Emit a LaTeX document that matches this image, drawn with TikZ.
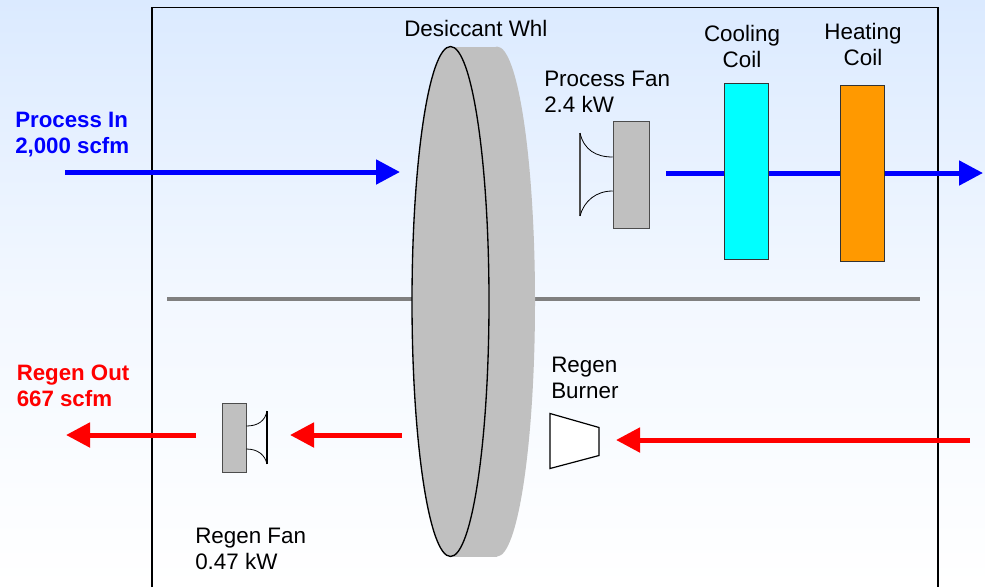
\documentclass[tikz,border=0pt]{standalone}
\usepackage{fontspec}
\setmainfont{Liberation Sans}
\usetikzlibrary{arrows.meta}
\definecolor{wheelgray}{RGB}{192,192,192}
\definecolor{skyblue}{RGB}{219,234,255}
\definecolor{coilorange}{RGB}{255,153,0}
\definecolor{coilcyan}{RGB}{0,255,255}
\tikzset{%
  label/.style    = {inner sep=0pt, anchor=west, align=left, text=black,%
                     font=\fontsize{16.8}{19.5}\selectfont},%
  flowlabel/.style = {label, font=\fontsize{16.7}{19.7}\selectfont\bfseries},%
  fanbox/.style   = {shape=rectangle, draw=black!70, fill=wheelgray, inner sep=0pt},%
  coil/.style     = {shape=rectangle, draw=black!80, line width=0.75pt, inner sep=0pt,%
                     minimum width=33pt, minimum height=131.5pt},%
  flow/.style     = {line width=3.75pt, -{Triangle[length=18pt,width=18pt]}},%
  horn/.style     = {line width=0.6pt}%
}
\begin{document}
\begin{tikzpicture}[x=0.75pt,y=-0.75pt]
	\useasboundingbox (0,0) rectangle (985,587);
	\shade[top color=skyblue, bottom color=white, middle color=skyblue!35] (0,0) rectangle (985,587);
	\draw[line width=1pt] (152,587) -- (152,7.5) -- (938,7.5) -- (938,587);
	% divider
	\coordinate (divleft) at (167,299);
	\coordinate (divright) at (920,299);
	\draw[line width=3.5pt, black!50] (divleft) -- (divright);
	% wheel
	\fill[wheelgray] (497,46.5) rectangle (451,556.5);
	\fill[wheelgray] (497,301.5) ellipse [x radius=38,y radius=255];
	\filldraw[fill=wheelgray, draw=black, line width=1pt] (450.5,301.5) ellipse [x radius=38.5,y radius=255];
	% process side
	\coordinate (procstart) at (65,172);
	\coordinate (procwheel) at (400,172);
	\coordinate (procout) at (666,173);
	\coordinate (procend) at (983,173);
	\draw[flow, blue] (procstart) -- (procwheel);
	\draw[flow, blue] (procout) -- (procend);
	\node[coil, fill=coilcyan] (cooling) at (746.5,171.5) {};
	\node[coil, fill=coilorange] (heating) at (862.5,173.5) {};
	\node[fanbox, minimum width=27pt, minimum height=80pt] (procfan) at (631,174.5) {};
	\coordinate (prochornup) at (580,133);
	\coordinate (prochorndown) at (580,216);
	\draw[horn, black!70, line width=0.8pt] (prochornup) -- (prochorndown);
	\draw[horn] (prochornup) .. controls (584,150) and (596,157) .. (procfan.west |- 0,157);
	\draw[horn] (prochorndown) .. controls (584,201) and (596,191) .. (procfan.west |- 0,191);
	% regen side
	\coordinate (regenstart) at (970,440);
	\coordinate (regenburner) at (616,440);
	\coordinate (regenwheel) at (402,435);
	\coordinate (regenfanin) at (290,435);
	\coordinate (regenfanout) at (196,435);
	\coordinate (regenend) at (66,435);
	\draw[flow, red] (regenstart) -- (regenburner);
	\draw[flow, red] (regenwheel) -- (regenfanin);
	\draw[flow, red] (regenfanout) -- (regenend);
	\draw[fill=white, line width=0.9pt] (550,413.5) -- (599,427.5) -- (599,455.5) -- (550,468.5) -- cycle;
	\node[fanbox, minimum width=18pt, minimum height=51.5pt] (regenfan) at (234,437.5) {};
	\coordinate (regenhornup) at (267,411);
	\coordinate (regenhorndown) at (267,464);
	\draw[horn, line width=0.8pt] (regenhornup) -- (regenhorndown);
	\draw[horn] (regenhornup) .. controls (265,421) and (258,426) .. (regenfan.east |- 0,426);
	\draw[horn] (regenhorndown) .. controls (265,455) and (258,449) .. (regenfan.east |- 0,449);
	% labels
	\node[label] (wheeltext) at (404,28) {Desiccant Whl};
	\node[label] (procfantext) at (544,92) {Process Fan\\2.4 kW};
	\node[label, anchor=center, align=center] (coolingtext) at (742,46) {Cooling\\Coil};
	\node[label, anchor=center, align=center] (heatingtext) at (863,44) {Heating\\Coil};
	\node[label] (burnertext) at (551,378) {Regen\\Burner};
	\node[label] (regenfantext) at (195,549) {Regen Fan\\0.47 kW};
	\node[flowlabel, text=blue] (procintext) at (15,134.5) {Process In\\2,000 scfm};
	\node[flowlabel, text=red] (regenouttext) at (16.5,386) {Regen Out\\667 scfm};
\end{tikzpicture}
\end{document}
